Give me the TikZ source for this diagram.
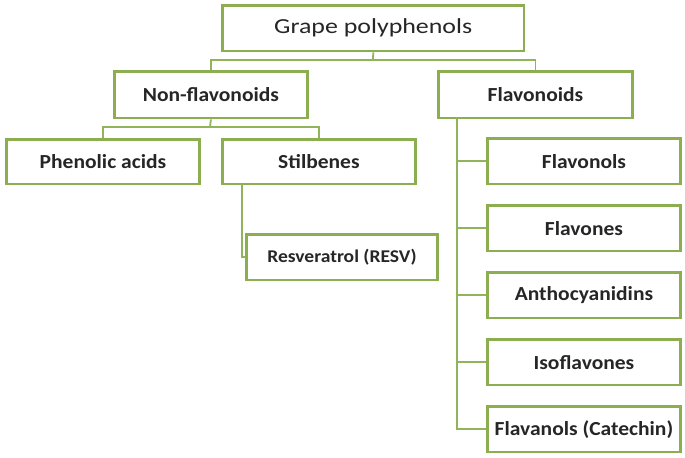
\documentclass[tikz,border=0pt]{standalone}
\usepackage{fontspec}
\setmainfont{Carlito}
\usetikzlibrary{shadows}
\begin{document}
\begin{tikzpicture}[x=1bp,y=-1bp,
  box/.style={draw=boxgreen,line width=2.6bp,fill=white,inner sep=0pt,
    drop shadow={opacity=0.25,shadow xshift=1.2bp,shadow yshift=-1.2bp}},
  conn/.style={draw=linegreen,line width=1.8bp},
  lbl/.style={font=\bfseries\fontsize{20}{22}\selectfont,text=black!85}]
\definecolor{boxgreen}{RGB}{140,174,80}
\definecolor{linegreen}{RGB}{145,180,90}
\useasboundingbox (0,0) rectangle (685,458);
\fill[white] (0,0) rectangle (685,458);
\newcommand\wid[2][1.08]{\scalebox{#1}[1]{#2}}
% boxes (x1,y1,x2,y2)
\newcommand\mybox[6]{%
  \node[box,minimum width=#4-#2,minimum height=#5-#3,anchor=north west,#6] (#1) at (#2,#3) {};}
\mybox{top}{221}{4}{524}{50}{}
\node[font=\fontsize{21.5}{24}\selectfont,text=black!85] (toptext) at (top.center) {\wid[1.21]{Grape polyphenols}};
\mybox{nonf}{113}{70}{307}{117}{}
\node[lbl] (nonft) at (nonf.center) {\wid{Non-flavonoids}};
\mybox{flav}{437}{70}{632}{117}{}
\node[lbl] (flavt) at (flav.center) {\wid{Flavonoids}};
\mybox{phen}{5}{138}{199}{183}{}
\node[lbl] (phent) at (phen.center) {\wid{Phenolic acids}};
\mybox{stil}{221}{138}{415}{183}{}
\node[lbl] (stilt) at (stil.center) {\wid{Stilbenes}};
\mybox{resv}{245}{233}{437}{279}{}
\node[lbl,font=\bfseries\fontsize{18}{20}\selectfont] (resvt) at (resv.center) {\wid[1.09]{Resveratrol (RESV)}};
\mybox{f1}{486}{137}{680}{183}{}
\node[lbl] (f1t) at (f1.center) {\wid{Flavonols}};
\mybox{f2}{486}{204}{680}{250}{}
\node[lbl] (f2t) at (f2.center) {\wid{Flavones}};
\mybox{f3}{486}{271}{680}{317}{}
\node[lbl] (f3t) at (f3.center) {\wid{Anthocyanidins}};
\mybox{f4}{486}{338}{680}{384}{}
\node[lbl] (f4t) at (f4.center) {\wid{Isoflavones}};
\mybox{f5}{486}{405}{680}{451}{}
\node[lbl] (f5t) at (f5.center) {\wid{Flavanols (Catechin)}};
% connectors
\coordinate (tj) at (373,60);
\draw[conn] (top.south) -- (tj);
\draw[conn] (nonf.north) -- ++(0,-10) -| (flav.north);
\coordinate (nj) at (210,127);
\draw[conn] (nonf.south) -- (nj);
\draw[conn] (nj) -| (103,127) -- (103,138);
\draw[conn] (103,127) -- (319,127) -- (319,138);
\coordinate (sj) at (242,183);
\draw[conn] (sj) |- (resv.west);
\coordinate (fj) at (457,117);
\draw[conn] (fj) |- (f5.west);
\foreach \n in {f1,f2,f3,f4} \draw[conn] (fj |- \n.west) -- (\n.west);
\end{tikzpicture}
\end{document}
